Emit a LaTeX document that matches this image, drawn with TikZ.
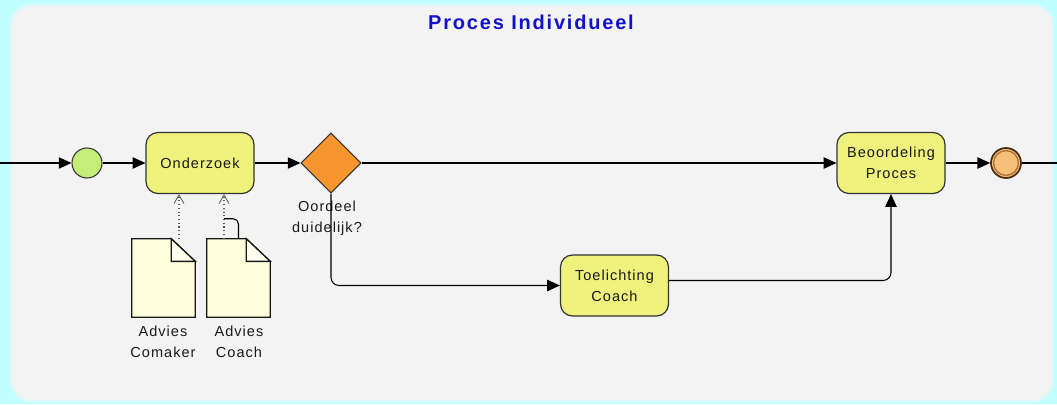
\documentclass[tikz,border=0pt]{standalone}
\usepackage{fontspec}
\setmainfont{Liberation Sans}[LetterSpace=7]
\newfontfamily\titlefont{Liberation Sans}[LetterSpace=9]
\usetikzlibrary{arrows.meta,shapes.geometric,calc}
\definecolor{bgcyan}{HTML}{BFFFFF}
\definecolor{panel}{HTML}{F3F3F3}
\definecolor{paneledge}{HTML}{DCF8F8}
\definecolor{taskfill}{HTML}{EEF27C}
\definecolor{lineclr}{HTML}{333333}
\definecolor{startfill}{HTML}{C4EE7A}
\definecolor{endfill}{HTML}{F6BE78}
\definecolor{endring}{HTML}{4A2E12}
\definecolor{endinner}{HTML}{A8743A}
\definecolor{gwfill}{HTML}{F7962F}
\definecolor{docfill}{HTML}{FFFFDC}
\definecolor{foldfill}{HTML}{FFFFF0}
\definecolor{titleblue}{HTML}{1212C8}
\begin{document}
\begin{tikzpicture}[x=0.75pt,y=-0.75pt,
  txt/.style={font=\fontsize{10.9pt}{16pt}\selectfont, align=center, text=black!90},
  task/.style={txt, rectangle, rounded corners=9pt, draw=lineclr, line width=0.9pt, fill=taskfill,
    minimum width=81pt, minimum height=45.75pt, inner sep=0pt},
  startev/.style={circle, draw=lineclr, line width=0.8pt, fill=startfill, minimum size=22.5pt, inner sep=0pt},
  endev/.style={circle, draw=endring, line width=1.3pt, fill=endfill, minimum size=22.5pt, inner sep=0pt},
  gw/.style={diamond, draw=lineclr, line width=0.8pt, fill=gwfill, minimum width=45pt, minimum height=45pt, inner sep=0pt},
  docbox/.style={rectangle, draw=none, minimum width=47.25pt, minimum height=58.5pt, inner sep=0pt},
  docline/.style={draw=black!90, line width=1pt, fill=docfill, line join=miter},
  lbl/.style={txt},
  flow/.style={draw=black, line width=0.8pt, -{Triangle[length=9.5pt,width=8.5pt]}},
  plainline/.style={draw=black, line width=0.8pt},
  assoc/.style={draw=black!65, line width=0.8pt, dotted, -{Straight Barb[length=6.5pt,width=7.5pt,line width=0.6pt]}}
]
\useasboundingbox (0,0) rectangle (1057,404);
\fill[bgcyan] (0,0) rectangle (1057,404);
\filldraw[fill=panel, draw=paneledge, line width=2pt, rounded corners=15pt] (11,5) rectangle (1053,401);

\node[font=\titlefont\fontsize{15pt}{18pt}\selectfont\bfseries, text=titleblue] (title) at (531,22) {Proces Individueel};

\coordinate (in) at (0,163);
\coordinate (out) at (1057,163);
\node[startev] (st) at (87,163) {};
\node[task] (oz) at (200,163) {Onderzoek};
\node[gw] (gw) at (331,163) {};
\node[lbl] (gwl) at (327,218) {Oordeel\\duidelijk?};
\node[task] (bp) at (891,163) {Beoordeling\\Proces};
\node[task] (tc) at (614.5,285.5) {Toelichting\\Coach};
\node[endev] (en) at (1006,163) {};
\draw[endinner, line width=1pt] (en) circle (9.3pt);

\node[docbox] (d1) at (163.5,278) {};
\node[docbox] (d2) at (238.5,278) {};
\foreach \d in {d1,d2}{
  \filldraw[docline] (\d.south west) -- (\d.north west) -- ([xshift=-18pt]\d.north east)
     -- ([yshift=-17pt]\d.north east) -- (\d.south east) -- cycle;
  \filldraw[docline, fill=foldfill] ([xshift=-18pt]\d.north east) -- ([xshift=-18pt,yshift=-17pt]\d.north east)
     -- ([yshift=-17pt]\d.north east) -- cycle;
}
\node[lbl] (d1l) at (163,341.5) {Advies\\Comaker};
\node[lbl] (d2l) at (239,341.5) {Advies\\Coach};

\draw[flow] (in) -- (st.west);
\draw[flow] (st.east) -- (oz.west);
\draw[flow] (oz.east) -- (gw.west);
\draw[flow] (gw.east) -- (bp.west);
\draw[flow, rounded corners=6pt] (gw.south) |- (tc.west);
\draw[flow, rounded corners=6pt] ([yshift=3.75pt]tc.east) -| (bp.south);
\draw[flow] (bp.east) -- (en.west);
\draw[plainline] (en.east) -- (out);

\coordinate (a1) at ($(d1.north)+(15.5,0)$);
\coordinate (a2) at ($(d2.north)+(-14.5,0)$);
\draw[assoc] (a1) -- (a1 |- oz.south);
\draw[assoc] (a2) -- (a2 |- oz.south);
\draw[plainline, rounded corners=4pt] ($(a2)+(0,-20)$) -- ($(d2.north)+(0,-20)$) -- (d2.north);
\end{tikzpicture}
\end{document}
